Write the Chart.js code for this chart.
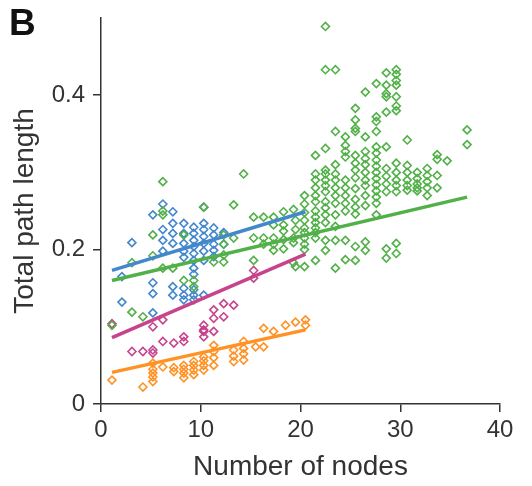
<!DOCTYPE html>
<html>
<head>
<meta charset="utf-8">
<script src="https://cdn.jsdelivr.net/npm/chart.js@4"></script>
<style>
  html, body { margin: 0; padding: 0; background: #fff; }
  #wrap { position: relative; width: 532px; height: 486px; }
  #panel { position: absolute; left: 9px; top: 2px; font: bold 37px "Liberation Sans", Arial, sans-serif; color: #111; }
</style>
</head>
<body>
<div id="wrap">
  <canvas id="chart" width="532" height="486"></canvas>
  <div id="panel">B</div>
</div>
<script>
const xTicks = [0, 10, 20, 30, 40];
const yTicks = [0, 0.2, 0.4];

const bluePoints = [
  [2.1, 0.132], [2.1, 0.165], [3.1, 0.209], [5.2, 0.245], [5.2, 0.157], [5.2, 0.143], [5.2, 0.118],
  [6.2, 0.259], [6.2, 0.198], [6.2, 0.212], [6.2, 0.226], [7.2, 0.249], [7.2, 0.234], [7.2, 0.221], [7.2, 0.208],
  [7.2, 0.141], [7.2, 0.152], [8.3, 0.234], [8.3, 0.221], [8.3, 0.208], [8.3, 0.198], [8.3, 0.141], [8.3, 0.135],
  [8.3, 0.150], [8.3, 0.190], [9.3, 0.229], [9.3, 0.221], [9.3, 0.212], [9.3, 0.204], [9.3, 0.195], [9.3, 0.186],
  [9.3, 0.176], [9.3, 0.168], [9.3, 0.148], [9.3, 0.141], [9.3, 0.135], [10.3, 0.255], [10.3, 0.234],
  [10.3, 0.226], [10.3, 0.217], [10.3, 0.208], [10.3, 0.198], [10.3, 0.186], [10.3, 0.141],
  [11.3, 0.228], [11.3, 0.219], [11.3, 0.207], [11.3, 0.199], [11.3, 0.191], [12.3, 0.222], [12.3, 0.207]
];

const greenPoints = [
  [1.1, 0.102], [3.1, 0.183], [3.1, 0.119], [4.2, 0.113], [5.2, 0.219], [5.2, 0.192], [6.2, 0.288],
  [6.2, 0.250], [6.2, 0.245], [6.2, 0.176], [7.2, 0.176], [8.3, 0.219], [8.3, 0.160], [9.3, 0.152],
  [9.3, 0.160], [10.3, 0.255], [11.3, 0.184], [12.3, 0.219], [12.3, 0.207], [12.3, 0.193], [12.3, 0.184],
  [13.3, 0.258], [13.3, 0.215], [14.3, 0.298], [15.3, 0.242], [15.3, 0.215], [15.3, 0.186],
  [16.3, 0.242], [16.3, 0.215], [16.3, 0.207], [17.3, 0.242], [17.3, 0.232], [17.3, 0.215], [17.3, 0.207],
  [17.3, 0.199], [18.3, 0.249], [18.3, 0.232], [18.3, 0.224], [18.3, 0.213], [18.3, 0.201],
  [19.3, 0.252], [19.3, 0.215], [19.3, 0.209], [19.3, 0.183], [19.5, 0.178], [19.5, 0.226], [19.5, 0.238],
  [20.4, 0.270], [20.4, 0.259], [20.4, 0.248], [20.4, 0.238], [20.4, 0.228], [20.4, 0.222], [20.4, 0.215],
  [20.4, 0.207], [20.4, 0.200], [20.4, 0.178],
  [21.5, 0.322], [21.5, 0.298], [21.5, 0.290], [21.5, 0.280], [21.5, 0.270], [21.5, 0.262], [21.5, 0.250],
  [21.5, 0.242], [21.5, 0.235], [21.5, 0.228], [21.5, 0.222], [21.5, 0.215], [21.5, 0.186],
  [22.5, 0.489], [22.5, 0.433], [22.5, 0.331], [22.5, 0.303], [22.5, 0.298], [22.5, 0.290], [22.5, 0.283],
  [22.5, 0.275], [22.5, 0.262], [22.5, 0.254], [22.5, 0.245], [22.5, 0.235], [22.5, 0.212], [22.5, 0.199],
  [23.5, 0.433], [23.5, 0.353], [23.5, 0.310], [23.5, 0.298], [23.5, 0.290], [23.5, 0.280], [23.5, 0.270],
  [23.5, 0.260], [23.5, 0.245], [23.5, 0.230], [23.5, 0.212], [23.5, 0.176],
  [24.5, 0.346], [24.5, 0.335], [24.5, 0.327], [24.5, 0.320], [24.5, 0.290], [24.5, 0.280], [24.5, 0.270],
  [24.5, 0.260], [24.5, 0.250], [24.5, 0.212], [24.5, 0.187],
  [25.5, 0.383], [25.5, 0.368], [25.5, 0.357], [25.5, 0.353], [25.5, 0.322], [25.5, 0.312], [25.5, 0.303],
  [25.5, 0.293], [25.5, 0.279], [25.5, 0.265], [25.5, 0.255], [25.5, 0.246], [25.5, 0.204], [25.5, 0.186],
  [26.5, 0.404], [26.5, 0.346], [26.5, 0.327], [26.5, 0.318], [26.5, 0.310], [26.5, 0.300], [26.5, 0.290],
  [26.5, 0.283], [26.5, 0.270], [26.5, 0.257], [26.5, 0.210], [26.5, 0.199],
  [27.6, 0.415], [27.6, 0.372], [27.6, 0.366], [27.6, 0.353], [27.6, 0.333], [27.6, 0.325], [27.6, 0.316],
  [27.6, 0.308], [27.6, 0.300], [27.6, 0.292], [27.6, 0.284], [27.6, 0.276], [27.6, 0.268], [27.6, 0.260],
  [27.6, 0.245],
  [28.6, 0.429], [28.6, 0.413], [28.6, 0.402], [28.6, 0.398], [28.6, 0.378], [28.6, 0.333], [28.6, 0.305],
  [28.6, 0.295], [28.6, 0.285], [28.6, 0.275], [28.6, 0.201], [28.6, 0.189],
  [29.6, 0.433], [29.6, 0.427], [29.6, 0.419], [29.6, 0.413], [29.6, 0.398], [29.6, 0.386], [29.6, 0.380],
  [29.6, 0.312], [29.6, 0.300], [29.6, 0.290], [29.6, 0.283], [29.6, 0.275], [29.6, 0.208], [29.6, 0.195],
  [30.7, 0.342], [30.7, 0.309], [30.7, 0.300], [30.7, 0.290], [30.7, 0.283], [30.7, 0.277],
  [31.7, 0.300], [31.7, 0.292], [31.7, 0.285], [31.7, 0.280], [31.7, 0.276],
  [32.7, 0.305], [32.7, 0.296], [32.7, 0.288], [32.7, 0.280], [32.7, 0.270],
  [33.7, 0.323], [33.7, 0.317], [33.7, 0.296], [33.7, 0.280], [34.7, 0.315],
  [36.7, 0.355], [36.7, 0.336]
];

const magentaPoints = [
  [1.1, 0.104], [3.1, 0.068], [4.2, 0.068], [5.2, 0.070], [5.2, 0.066], [5.2, 0.100], [6.2, 0.081],
  [6.2, 0.109], [7.3, 0.079], [8.3, 0.081], [8.3, 0.087], [10.3, 0.102], [10.3, 0.094], [10.3, 0.087],
  [10.3, 0.096], [11.3, 0.122], [11.3, 0.111], [11.3, 0.094], [12.3, 0.130], [12.3, 0.113],
  [13.3, 0.128], [15.3, 0.173], [15.3, 0.163]
];

const orangePoints = [
  [1.1, 0.031], [4.2, 0.022], [5.2, 0.029], [5.2, 0.053], [5.2, 0.045], [5.2, 0.040], [5.2, 0.035],
  [6.2, 0.048], [7.3, 0.047], [7.3, 0.042], [8.3, 0.050], [8.3, 0.045], [8.3, 0.040], [8.3, 0.034],
  [9.3, 0.055], [9.3, 0.050], [9.3, 0.044], [9.3, 0.038], [10.3, 0.061], [10.3, 0.056], [10.3, 0.050],
  [10.3, 0.044], [11.3, 0.076], [11.3, 0.068], [11.3, 0.060], [11.3, 0.050], [13.3, 0.070], [13.3, 0.062],
  [13.3, 0.055], [14.3, 0.081], [14.3, 0.072], [14.3, 0.065], [14.3, 0.057], [15.5, 0.074],
  [16.3, 0.098], [16.3, 0.074], [17.3, 0.094], [18.5, 0.102], [19.5, 0.106], [20.5, 0.109], [20.5, 0.102]
];

// fitted lines (end points)
const blueFit = [[1.1, 0.173], [20.5, 0.249]];
const greenFit = [[1.1, 0.160], [36.7, 0.268]];
const magentaFit = [[1.1, 0.086], [20.5, 0.194]];
const orangeFit = [[1.1, 0.041], [20.5, 0.096]];

const colors = {
  blue: "#4387cc",
  green: "#52b048",
  magenta: "#c7438c",
  orange: "#ff9226"
};

const toXY = arr => arr.map(p => ({ x: p[0], y: p[1] }));

function pointSet(pts, color) {
  return {
    type: "scatter",
    data: toXY(pts),
    pointStyle: "rectRot",
    pointRadius: 4,
    pointBorderWidth: 1.6,
    borderColor: color,
    backgroundColor: "rgba(255,255,255,0)",
    order: 2
  };
}

function fitSet(pts, color) {
  return {
    type: "line",
    data: toXY(pts),
    borderColor: color,
    borderWidth: 3.5,
    pointRadius: 0,
    fill: false,
    order: 1
  };
}

const tickFont = { family: "'Liberation Sans', Arial, sans-serif", size: 24 };
const titleFont = { family: "'Liberation Sans', Arial, sans-serif", size: 28 };

new Chart(document.getElementById("chart").getContext("2d"), {
  type: "scatter",
  data: {
    datasets: [
      pointSet(greenPoints, colors.green),
      pointSet(bluePoints, colors.blue),
      pointSet(magentaPoints, colors.magenta),
      pointSet(orangePoints, colors.orange),
      fitSet(blueFit, colors.blue),
      fitSet(greenFit, colors.green),
      fitSet(magentaFit, colors.magenta),
      fitSet(orangeFit, colors.orange)
    ]
  },
  options: {
    responsive: false,
    animation: false,
    layout: { padding: { top: 18, right: 32, bottom: 0, left: 0 } },
    plugins: { legend: { display: false }, tooltip: { enabled: false } },
    scales: {
      x: {
        type: "linear",
        min: 0,
        max: 40,
        afterBuildTicks: s => { s.ticks = xTicks.map(v => ({ value: v })); },
        afterFit: s => { s.height = 82; },
        ticks: { font: tickFont, color: "#333", padding: 4, maxRotation: 0 },
        grid: { drawOnChartArea: false, drawTicks: true, tickLength: 8, color: "#333", lineWidth: 1.5 },
        border: { display: true, color: "#333", width: 1.5 },
        title: { display: true, text: "Number of nodes", font: titleFont, color: "#333", padding: { top: 0, bottom: 2 } }
      },
      y: {
        type: "linear",
        min: 0,
        max: 0.5,
        afterBuildTicks: s => { s.ticks = yTicks.map(v => ({ value: v })); },
        afterFit: s => { s.width = 101; s.paddingTop = 0; s.paddingBottom = 0; },
        ticks: { font: tickFont, color: "#333", padding: 8, callback: v => String(v) },
        grid: { drawOnChartArea: false, drawTicks: true, tickLength: 8, color: "#333", lineWidth: 1.5 },
        border: { display: true, color: "#333", width: 1.5 },
        title: { display: true, text: "Total path length", font: titleFont, color: "#333", padding: { top: 8, bottom: 0 } }
      }
    }
  }
});
</script>
</body>
</html>
